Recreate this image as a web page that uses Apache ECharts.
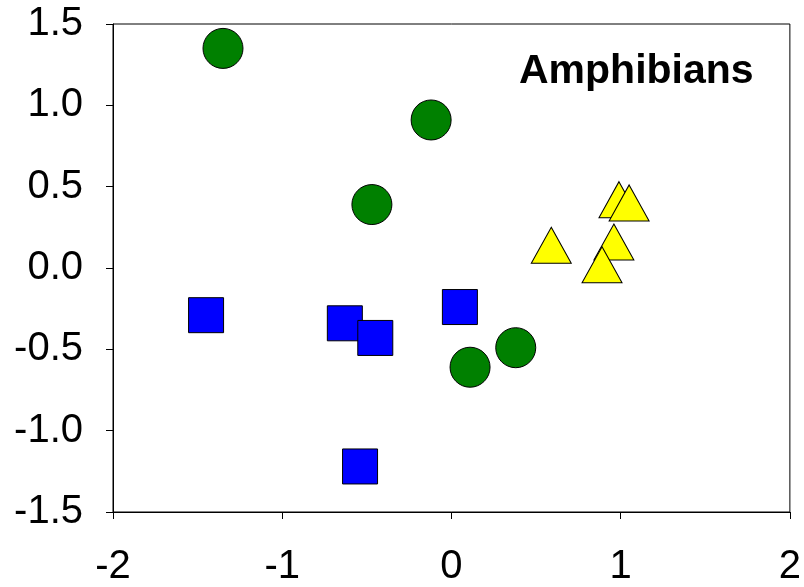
<!DOCTYPE html>
<html>
<head>
<meta charset="utf-8">
<script src="https://cdn.jsdelivr.net/npm/echarts@6/dist/echarts.min.js"></script>
<style>
  html, body { margin: 0; padding: 0; background: #fff; }
  #chart { width: 804px; height: 587px; }
</style>
</head>
<body>
<div id="chart"></div>
<script>
// Ordination scores for three groups
const greenCircles = [
  [-1.35, 1.35],
  [-0.12, 0.91],
  [-0.47, 0.39],
  [0.11, -0.61],
  [0.38, -0.49]
];
const blueSquares = [
  [-1.45, -0.29],
  [-0.63, -0.34],
  [-0.45, -0.43],
  [-0.54, -1.22],
  [0.05, -0.24]
];
const yellowTriangles = [
  [0.59, 0.14],
  [0.99, 0.42],
  [1.05, 0.40],
  [0.96, 0.16],
  [0.89, 0.02]
];
const xTicks = [-2, -1, 0, 1, 2];
const yTicks = [-1.5, -1.0, -0.5, 0.0, 0.5, 1.0, 1.5];
const panelTitle = 'Amphibians';

const FONT = 'Liberation Sans, Arial, sans-serif';
const chart = echarts.init(document.getElementById('chart'), null, { renderer: 'canvas' });

const markerStyle = (color) => ({ color: color, borderColor: '#000', borderWidth: 1, opacity: 1 });

chart.setOption({
  animation: false,
  backgroundColor: '#fff',
  title: {
    text: panelTitle,
    left: 519,
    top: 51,
    padding: 0,
    textStyle: { fontFamily: FONT, fontWeight: 'bold', fontSize: 41, color: '#000' }
  },
  grid: {
    left: 113, top: 24, width: 681, height: 490,
    show: true, borderColor: '#000', borderWidth: 1, backgroundColor: 'transparent'
  },
  xAxis: {
    type: 'value',
    min: xTicks[0], max: xTicks[xTicks.length - 1], interval: 1,
    splitLine: { show: false },
    axisLine: { show: true, onZero: false, lineStyle: { color: '#000', width: 1 } },
    axisTick: { show: true, length: 7, lineStyle: { color: '#000', width: 1 } },
    axisLabel: {
      margin: 35, fontFamily: FONT, fontSize: 40, color: '#000',
      formatter: (v) => String(v)
    }
  },
  yAxis: {
    type: 'value',
    min: yTicks[0], max: yTicks[yTicks.length - 1], interval: 0.5,
    splitLine: { show: false },
    axisLine: { show: true, onZero: false, lineStyle: { color: '#000', width: 1 } },
    axisTick: { show: true, length: 7, lineStyle: { color: '#000', width: 1 } },
    axisLabel: {
      margin: 30, fontFamily: FONT, fontSize: 40, color: '#000',
      formatter: (v) => v.toFixed(1)
    }
  },
  series: [
    {
      type: 'scatter', name: 'circles', data: greenCircles,
      symbol: 'circle', symbolSize: 40,
      itemStyle: markerStyle('#008000')
    },
    {
      type: 'scatter', name: 'squares', data: blueSquares,
      symbol: 'rect', symbolSize: 35,
      itemStyle: markerStyle('#0000ff')
    },
    {
      type: 'scatter', name: 'triangles', data: yellowTriangles,
      symbol: 'triangle', symbolSize: [40, 36],
      itemStyle: markerStyle('#ffff00')
    }
  ]
});
</script>
</body>
</html>
